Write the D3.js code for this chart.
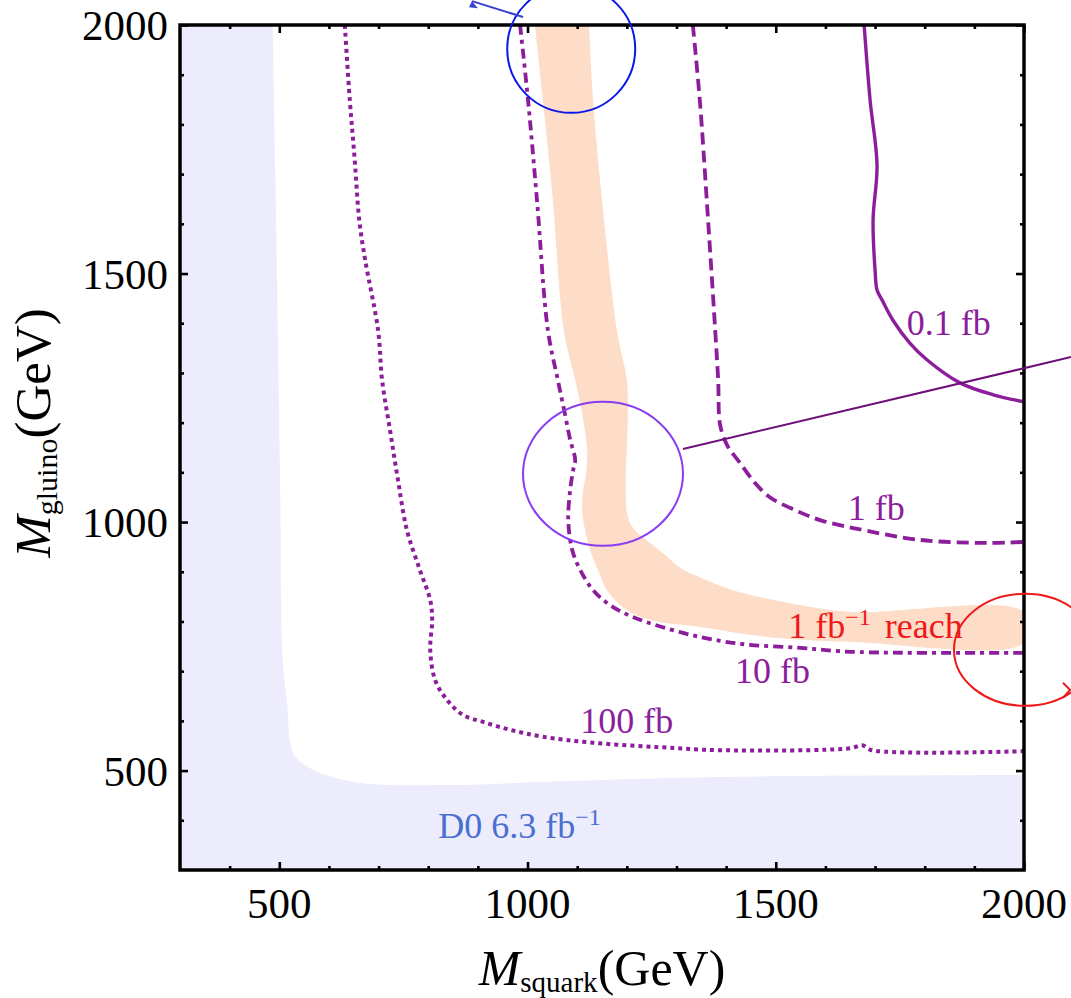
<!DOCTYPE html>
<html>
<head>
<meta charset="utf-8">
<script src="https://cdn.jsdelivr.net/npm/d3@7"></script>
<style>
body { margin: 0; background: #fff; }
svg { display: block; font-family: "Liberation Serif", "Times New Roman", serif; }
</style>
</head>
<body>
<svg width="1071" height="998"></svg>
<script>
// all values in GeV, [M_squark, M_gluino]

// D0 6.3 fb^-1 excluded region, upper/right edge
var d0Edge = [[487,2000],[492,1700],[497,1390],[502,1050],[507,722],[515,642],[528,535],[552,511],[582,495],[663,475],[844,471],[1025,477],[1388,487],[2000,491]];

// 1 fb^-1 reach band, lower/left edge and upper/right edge
var reachOuter = [[1015,2000],[1031,1849],[1051,1648],[1073,1386],[1096,1286],[1110,1219],[1120,1145],[1118,1099],[1112,1064],[1110,1024],[1116,984],[1126,944],[1142,904],[1160,863],[1200,823],[1247,803],[1347,789],[1482,769],[1650,759],[2000,757]];
var reachInner = [[1124,2000],[1132,1849],[1150,1648],[1180,1386],[1200,1286],[1202,1219],[1200,1145],[1198,1099],[1202,1010],[1216,984],[1247,958],[1277,934],[1307,908],[1347,889],[1414,863],[1549,833],[1650,819],[2000,819]];

// cross-section contours
var sigma01 = [[1678,2000],[1690,1849],[1704,1718],[1696,1608],[1700,1507],[1704,1467],[1714,1447],[1736,1406],[1770,1360],[1805,1326],[1871,1280],[1938,1256],[2000,1242]];
var sigma1 = [[1333,2000],[1347,1849],[1361,1648],[1378,1386],[1384,1286],[1388,1195],[1402,1155],[1428,1119],[1458,1079],[1488,1050],[1539,1024],[1589,1004],[1656,988],[1791,964],[1925,958],[2000,960]];
var sigma10 = [[985,2000],[1001,1849],[1019,1648],[1041,1386],[1061,1286],[1075,1219],[1086,1165],[1096,1125],[1092,1105],[1086,1065],[1082,1004],[1090,944],[1106,904],[1132,863],[1166,833],[1212,809],[1313,777],[1388,761],[1448,753],[1549,747],[1650,739],[2000,737]];
var sigma100 = [[632,2000],[642,1849],[652,1728],[661,1608],[673,1527],[699,1386],[707,1286],[723,1185],[739,1085],[757,984],[783,904],[804,843],[808,803],[804,743],[814,682],[838,642],[870,612],[910,598],[965,582],[1031,568],[1132,556],[1267,547],[1388,541],[1650,545],[1674,551],[1694,541],[2000,539]];

var contourNames = ['0.1 fb', '1 fb', '10 fb', '100 fb'];
var contourLabelAt = [[1764,1376],[1645,1004],[1418,676],[1106,576]];

var majorTicks = [500, 1000, 1500, 2000];
var minorTicks = [400,600,700,800,900,1100,1200,1300,1400,1600,1700,1800,1900];

var svg = d3.select('svg');
var purple = '#8c1e9b';

var x = d3.scaleLinear().domain([300, 2000]).range([180, 1024]);
var y = d3.scaleLinear().domain([300, 2000]).range([870, 25]);

var line = d3.line()
    .x(function(d){ return x(d[0]); })
    .y(function(d){ return y(d[1]); })
    .curve(d3.curveCatmullRom);

svg.append('clipPath').attr('id', 'plot')
    .append('rect')
    .attr('x', x(300)).attr('y', y(2000))
    .attr('width', x(2000) - x(300)).attr('height', y(300) - y(2000));

var plot = svg.append('g').attr('clip-path', 'url(#plot)');

// D0 region
plot.append('path')
    .attr('d', line(d0Edge) + 'L' + x(2000) + ',' + y(300) + 'L' + x(300) + ',' + y(300) + 'L' + x(300) + ',' + y(2000) + 'Z')
    .attr('fill', '#ececfc');

// reach band
plot.append('path')
    .attr('d', line(reachOuter.concat(reachInner.slice().reverse())) + 'Z')
    .attr('fill', '#fddcc8');

var contours = [
    {pts: sigma01, dash: null, w: 3.4},
    {pts: sigma1, dash: '12,6', w: 3.8},
    {pts: sigma10, dash: '10,5,4,5', w: 3.8},
    {pts: sigma100, dash: '4,4', w: 4}
];

plot.selectAll('path.contour')
    .data(contours)
    .enter()
    .append('path')
    .attr('class', 'contour')
    .attr('d', function(d){ return line(d.pts); })
    .attr('fill', 'none')
    .attr('stroke', purple)
    .attr('stroke-width', function(d){ return d.w; })
    .attr('stroke-dasharray', function(d){ return d.dash; });

svg.selectAll('text.clabel')
    .data(contourNames)
    .enter()
    .append('text')
    .attr('class', 'clabel')
    .attr('x', function(d, i){ return x(contourLabelAt[i][0]); })
    .attr('y', function(d, i){ return y(contourLabelAt[i][1]); })
    .attr('font-size', 36)
    .attr('fill', purple)
    .text(function(d){ return d; });

// reach label
var reach = svg.append('text')
    .attr('x', x(1525)).attr('y', y(767))
    .attr('font-size', 36).attr('fill', '#f01818');
reach.append('tspan').text('1 fb');
reach.append('tspan').attr('dy', -13).attr('font-size', 24).text('\u22121');
reach.append('tspan').attr('dy', 13).attr('dx', 14).text('reach');

// D0 label
var d0 = svg.append('text')
    .attr('x', x(820)).attr('y', y(364))
    .attr('font-size', 36).attr('fill', '#4a6fd1');
d0.append('tspan').text('D0 6.3 fb');
d0.append('tspan').attr('dy', -13).attr('font-size', 24).text('\u22121');

// ticks on all four sides, pointing inwards
function ticks(axis, tr){
    svg.append('g').attr('transform', tr)
        .call(axis.tickValues(majorTicks).tickSize(-8).tickFormat(''))
        .call(function(g){ g.select('.domain').remove(); });
}
function minor(axis, tr){
    svg.append('g').attr('transform', tr)
        .call(axis.tickValues(minorTicks).tickSize(-4).tickFormat(''))
        .call(function(g){ g.select('.domain').remove(); });
}
ticks(d3.axisBottom(x), 'translate(0,' + y(300) + ')');
minor(d3.axisBottom(x), 'translate(0,' + y(300) + ')');
ticks(d3.axisTop(x), 'translate(0,' + y(2000) + ')');
minor(d3.axisTop(x), 'translate(0,' + y(2000) + ')');
ticks(d3.axisLeft(y), 'translate(' + x(300) + ',0)');
minor(d3.axisLeft(y), 'translate(' + x(300) + ',0)');
ticks(d3.axisRight(y), 'translate(' + x(2000) + ',0)');
minor(d3.axisRight(y), 'translate(' + x(2000) + ',0)');
svg.selectAll('.tick line').attr('stroke', '#000').attr('stroke-width', 2.6);

// frame
svg.append('rect')
    .attr('x', x(300)).attr('y', y(2000))
    .attr('width', x(2000) - x(300)).attr('height', y(300) - y(2000))
    .attr('fill', 'none').attr('stroke', '#000').attr('stroke-width', 3.5);

// tick labels
svg.selectAll('text.xt')
    .data(majorTicks)
    .enter()
    .append('text')
    .attr('class', 'xt')
    .attr('x', function(d){ return x(d); })
    .attr('y', 918)
    .attr('text-anchor', 'middle')
    .attr('font-size', 43)
    .text(function(d){ return d; });

svg.selectAll('text.yt')
    .data(majorTicks)
    .enter()
    .append('text')
    .attr('class', 'yt')
    .attr('x', 168)
    .attr('y', function(d){ return y(d) + 15; })
    .attr('text-anchor', 'end')
    .attr('font-size', 43)
    .text(function(d){ return d; });

// axis titles
var xt = svg.append('text')
    .attr('x', 602).attr('y', 985)
    .attr('text-anchor', 'middle')
    .attr('font-size', 50);
xt.append('tspan').attr('font-style', 'italic').text('M');
xt.append('tspan').attr('font-size', 29).attr('dy', 7).text('squark');
xt.append('tspan').attr('dy', -7).text('(GeV)');

var yt = svg.append('text')
    .attr('transform', 'translate(50,433) rotate(-90)')
    .attr('text-anchor', 'middle')
    .attr('font-size', 51);
yt.append('tspan').attr('font-style', 'italic').text('M');
yt.append('tspan').attr('font-size', 30).attr('dy', 7).text('gluino');
yt.append('tspan').attr('dy', -7).text('(GeV)');

// hand-drawn highlight marks over the chart
var rings = [
    {cx: 1088, cy: 1952, rx: 64, ry: 64, color: '#0b18e8'},
    {cx: 1152, cy: 1097, rx: 80, ry: 72, color: '#8a3cf2'},
    {cx: 2002, cy: 743, rx: 71, ry: 56, color: '#ee1a1a'}
];
svg.selectAll('ellipse')
    .data(rings)
    .enter()
    .append('ellipse')
    .attr('cx', function(d){ return x(d.cx); })
    .attr('cy', function(d){ return y(d.cy); })
    .attr('rx', function(d){ return d.rx; })
    .attr('ry', function(d){ return d.ry; })
    .attr('fill', 'none')
    .attr('stroke', function(d){ return d.color; })
    .attr('stroke-width', 2);

var pointers = [
    {from: [991, 2016], to: [888, 2048], color: '#3340d0'},
    {from: [1313, 1147], to: [2095, 1332], color: '#6e0f7a'}
];
svg.selectAll('line.pointer')
    .data(pointers)
    .enter()
    .append('line')
    .attr('class', 'pointer')
    .attr('x1', function(d){ return x(d.from[0]); })
    .attr('y1', function(d){ return y(d.from[1]); })
    .attr('x2', function(d){ return x(d.to[0]); })
    .attr('y2', function(d){ return y(d.to[1]); })
    .attr('stroke', function(d){ return d.color; })
    .attr('stroke-width', 2);

// little arrow heads
svg.append('path')
    .attr('d', 'M' + x(888) + ',' + y(2048) + 'l6,7l-9,-1z')
    .attr('fill', '#3340d0');
svg.append('path')
    .attr('d', 'M' + (x(2002) + 38) + ',' + (y(743) + 33) + 'l7,7l-7,8')
    .attr('fill', 'none').attr('stroke', '#ee1a1a').attr('stroke-width', 2);
</script>
</body>
</html>
